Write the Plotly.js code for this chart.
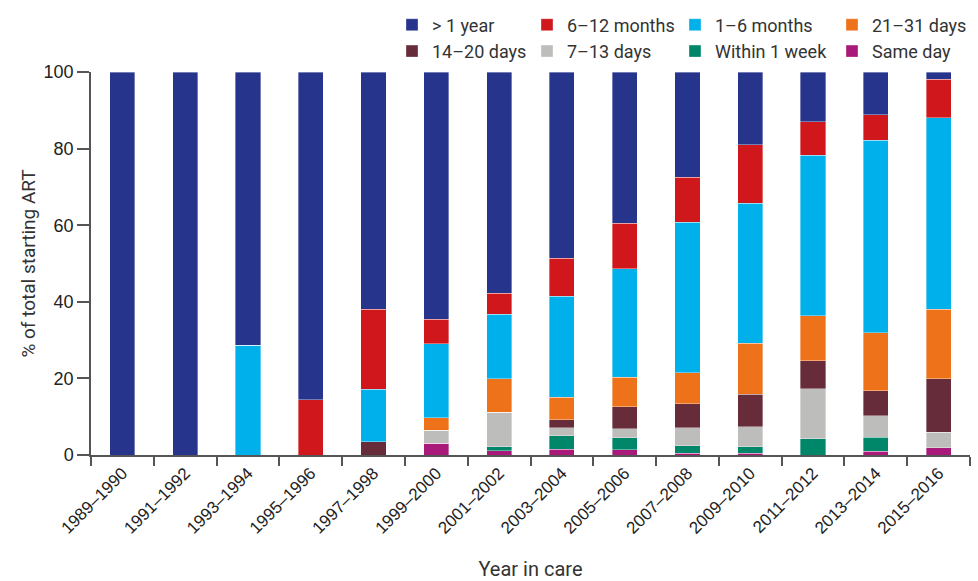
<!DOCTYPE html>
<html>
<head>
<meta charset="utf-8">
<script src="https://cdn.plot.ly/plotly-3.0.1.min.js"></script>
<style>html,body{margin:0;padding:0;background:#fff;}#chart{width:978px;height:581px;}</style>
</head>
<body>
<div id="chart"></div>
<script>
const years = ["1989–1990","1991–1992","1993–1994","1995–1996","1997–1998","1999–2000","2001–2002","2003–2004","2005–2006","2007–2008","2009–2010","2011–2012","2013–2014","2015–2016"];

const sameDay     = [0, 0, 0, 0, 0, 3.1, 1.1, 1.5, 1.4, 0.4, 0.4, 0, 1.0, 1.9];
const within1Week = [0, 0, 0, 0, 0, 0, 1.0, 3.5, 3.1, 2.0, 1.7, 4.2, 3.6, 0];
const days7to13   = [0, 0, 0, 0, 0, 3.4, 9.0, 2.1, 2.3, 4.7, 5.3, 13.1, 5.7, 4.1];
const days14to20  = [0, 0, 0, 0, 3.5, 0, 0, 2.1, 5.8, 6.3, 8.4, 7.3, 6.5, 13.9];
const days21to31  = [0, 0, 0, 0, 0, 3.2, 8.8, 5.9, 7.7, 8.1, 13.4, 11.7, 15.1, 18.2];
const months1to6  = [0, 0, 28.7, 0, 13.7, 19.4, 16.8, 26.4, 28.3, 39.3, 36.5, 42.0, 50.3, 50.0];
const months6to12 = [0, 0, 0, 14.4, 20.8, 6.4, 5.5, 9.9, 11.9, 11.7, 15.3, 8.7, 6.6, 10.0];
const over1Year   = [100, 100, 71.3, 85.6, 62.0, 64.5, 57.8, 48.6, 39.5, 27.5, 19.0, 13.0, 11.2, 1.9];

const yTicks = [0, 20, 40, 60, 80, 100];

const series = [
  {name: "Same day",      y: sameDay,     color: "#a8197a", legend: "legend4", rank: 2},
  {name: "Within 1 week", y: within1Week, color: "#00876a", legend: "legend3", rank: 2},
  {name: "7–13 days",     y: days7to13,   color: "#bdbdbc", legend: "legend2", rank: 2},
  {name: "14–20 days",    y: days14to20,  color: "#672c39", legend: "legend",  rank: 2},
  {name: "21–31 days",    y: days21to31,  color: "#ee7219", legend: "legend4", rank: 1},
  {name: "1–6 months",    y: months1to6,  color: "#00b0ea", legend: "legend3", rank: 1},
  {name: "6–12 months",   y: months6to12, color: "#d0181c", legend: "legend2", rank: 1},
  {name: "> 1 year",      y: over1Year,   color: "#27348b", legend: "legend",  rank: 1}
];

const traces = series.map(s => ({
  type: "bar",
  x: years,
  y: s.y,
  name: s.name,
  legend: s.legend,
  legendrank: s.rank,
  marker: {color: s.color, line: {width: 0.6, color: "rgba(255,255,255,0.6)"}},
  hoverinfo: "x+y+name"
}));

const legFont = {family: "Roboto, 'Noto Sans', sans-serif", size: 18, color: "#333"};
function leg(px) {
  return {x: (px - 91) / 880, y: 1 + (72 - 6.5) / 383, xref: "paper", yref: "paper",
          xanchor: "left", yanchor: "top",
          orientation: "v", traceorder: "normal", font: legFont, bgcolor: "rgba(0,0,0,0)",
          tracegroupgap: 0, itemclick: false, itemdoubleclick: false};
}

const layout = {
  width: 978, height: 581,
  margin: {l: 91, r: 7, t: 72, b: 126},
  paper_bgcolor: "#fff", plot_bgcolor: "#fff",
  barmode: "stack",
  bargap: 0.6,
  showlegend: true,
  legend:  leg(392),
  legend2: leg(527),
  legend3: leg(675),
  legend4: leg(832),
  xaxis: {
    type: "category",
    range: [-0.5, 13.5],
    tickson: "boundaries",
    ticks: "outside", ticklen: 9, tickcolor: "#555", tickwidth: 1.5,
    showline: true, linecolor: "#555", linewidth: 1.5,
    showgrid: false, zeroline: false,
    tickangle: -45,
    tickfont: {family: "'Liberation Sans', Arial, sans-serif", size: 17, color: "#222"},
    title: {text: "Year in care", standoff: 26,
            font: {family: "Roboto, 'Noto Sans', sans-serif", size: 20, color: "#333"}}
  },
  yaxis: {
    range: [0, 100],
    tickvals: yTicks,
    ticktext: yTicks.map(String),
    ticks: "outside", ticklen: 12, tickcolor: "#555", tickwidth: 1.5,
    showline: true, linecolor: "#555", linewidth: 1.5,
    showgrid: false, zeroline: false,
    tickfont: {family: "'Liberation Sans', Arial, sans-serif", size: 18, color: "#222"},
    title: {text: "% of total starting ART", standoff: 3,
            font: {family: "Roboto, 'Noto Sans', sans-serif", size: 19, color: "#333"}}
  }
};

Plotly.newPlot("chart", traces, layout, {displayModeBar: false});
</script>
</body>
</html>
